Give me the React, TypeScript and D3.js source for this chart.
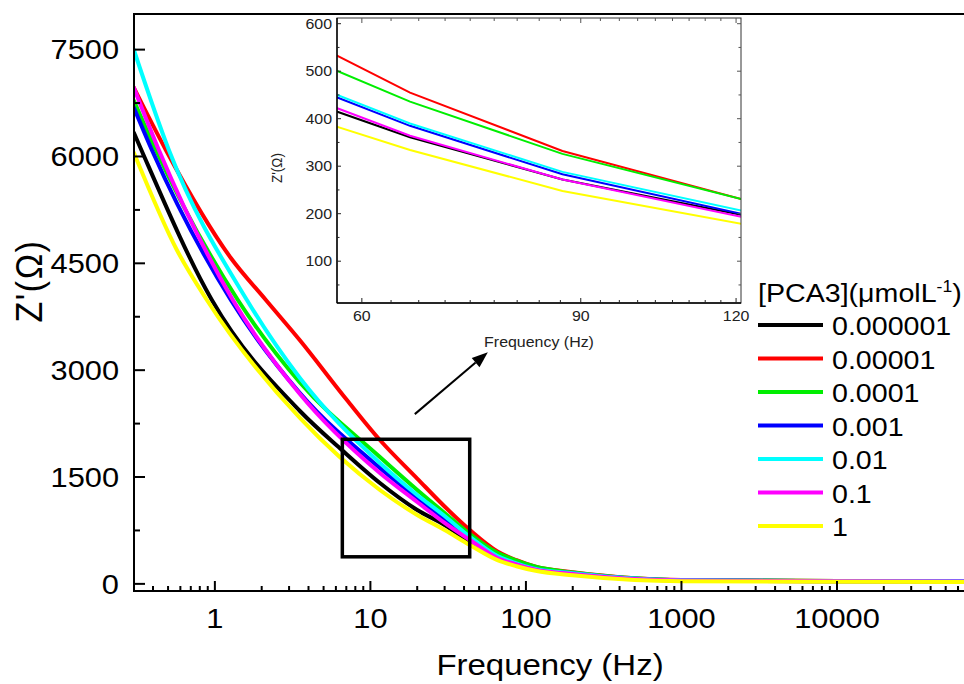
import React from "react";
import * as d3 from "d3";

// ---------- data ----------
const concentrations = ["0.000001", "0.00001", "0.0001", "0.001", "0.01", "0.1", "1"];
const seriesColors = ["#000000", "#ff0000", "#00ee00", "#0000ff", "#00ffff", "#ff00ff", "#ffff00"];

const xTickValues = [1, 10, 100, 1000, 10000];
const xTickLabels = ["1", "10", "100", "1000", "10000"];
const yTickValues = [0, 1500, 3000, 4500, 6000, 7500];

// [frequency (Hz), Z' (ohm)]
const black: [number, number][] = [
  [0.3, 6344], [0.3368, 6091], [0.9566, 3985], [3.521, 2427], [6.557, 1879], [11.51, 1416],
  [20, 1037], [30, 827], [43.6, 588], [65.6, 361], [87, 272], [115.4, 203],
  [200, 139], [500, 68], [1000, 47], [10000, 36], [70000, 33],
];
const red: [number, number][] = [
  [0.3, 6975], [0.4841, 6091], [1.267, 4575], [2.128, 3985], [3.52, 3420], [7.064, 2581], [11.51, 2020],
  [20, 1479], [30, 1086], [43.6, 756], [65.6, 455], [87, 332], [115.4, 240],
  [200, 165], [500, 80], [1000, 54], [10000, 42], [70000, 40],
];
const green: [number, number][] = [
  [0.3, 6793], [0.4175, 6091], [1.4056, 3985], [3.521, 2827], [11.51, 1781],
  [20, 1318], [30, 995], [43.6, 700], [65.6, 436], [87, 326], [115.4, 240],
  [200, 160], [500, 78], [1000, 52], [10000, 40], [70000, 38],
];
const blue: [number, number][] = [
  [0.3, 6694], [0.3935, 6091], [1.267, 3985], [3.521, 2680], [11.51, 1627],
  [20, 1206], [30, 897], [43.6, 644], [65.6, 385], [87, 283], [115.4, 206],
  [200, 145], [500, 72], [1000, 50], [10000, 38], [70000, 36],
];
const cyan: [number, number][] = [
  [0.3, 7509], [0.506, 6091], [1.6063, 3985], [3.521, 2890], [11.51, 1697],
  [20, 1248], [30, 953], [43.6, 660], [65.6, 390], [87, 288], [115.4, 210],
  [200, 150], [500, 74], [1000, 50], [10000, 38], [70000, 36],
];
const magenta: [number, number][] = [
  [0.3, 6975], [0.4363, 6091], [1.3055, 3985], [3.521, 2666], [11.51, 1556],
  [20, 1149], [30, 855], [43.6, 616], [65.6, 364], [87, 272], [115.4, 198],
  [200, 140], [500, 68], [1000, 47], [10000, 36], [70000, 34],
];
const yellow: [number, number][] = [
  [0.3, 6063], [0.5697, 4687], [0.8884, 3985], [3.521, 2329], [11.51, 1318],
  [20, 967], [30, 756], [43.6, 546], [65.6, 334], [87, 248], [115.4, 184],
  [200, 120], [500, 55], [1000, 38], [10000, 30], [70000, 28],
];
const mainSeries = [black, red, green, blue, cyan, magenta, yellow];

// inset (zoomed) data
const insetFreqs = [49.5, 65.6, 87, 121.5];
const insetBlack = [473, 361, 272, 197];
const insetRed = [617, 455, 332, 230];
const insetGreen = [571, 436, 326, 230];
const insetBlue = [510, 385, 283, 199];
const insetCyan = [515, 390, 288, 206];
const insetMagenta = [485, 364, 272, 193];
const insetYellow = [436, 334, 248, 178];
const insetSeries = [insetBlack, insetRed, insetGreen, insetBlue, insetCyan, insetMagenta, insetYellow];
const insetXTicks = [60, 90, 120];
const insetYTicks = [100, 200, 300, 400, 500, 600];

// zoom box and arrow (data coordinates)
const zoomBoxFreq = [6.6, 43.5];
const zoomBoxZ = [380, 2030];
const arrowFrom = [19.3, 2383];
const arrowTo = [56.9, 3252];

// ---------- chart ----------
const FONT = "'Liberation Sans', Arial, Helvetica, sans-serif";
const SX = 1.1;

function Txt(props: {
  x: number; y: number; size: number; anchor?: string; rotate?: boolean; fill?: string; spacing?: number; children: any;
}) {
  const { x, y, size, anchor = "middle", rotate = false, fill = "#000", spacing, children } = props;
  const tf = rotate
    ? `translate(${x},${y}) rotate(-90) scale(1,${SX})`
    : `translate(${x},${y}) scale(${SX},1)`;
  return (
    <text
      transform={tf}
      fontSize={size}
      fontFamily={FONT}
      textAnchor={anchor}
      dy="0.35em"
      fill={fill}
      style={spacing ? { letterSpacing: `${spacing}px` } : undefined}
    >
      {children}
    </text>
  );
}

export default function App() {
  const W = 964, H = 684;
  const L = 134, R = 964, T = 14, B = 591;
  const x = d3.scaleLog().domain([0.302, 65570]).range([L, R]);
  const y = d3.scaleLinear().domain([-100, 8000]).range([B, T]);

  const line = d3
    .line<[number, number]>()
    .x((d) => x(d[0]))
    .y((d) => y(d[1]))
    .curve(d3.curveMonotoneX);

  // minor x ticks
  const xMinor: number[] = [];
  for (let e = -1; e <= 4; e++) {
    for (let k = 2; k <= 9; k++) {
      const v = k * Math.pow(10, e);
      if (v > 0.302 && v < 65570) xMinor.push(v);
    }
  }
  const yMinor = d3.range(750, 8000, 1500);

  // inset
  const iL = 337, iR = 741, iT = 18, iB = 303;
  const ix = d3.scaleLog().domain([57.3, 121.1]).range([iL, iR]);
  const iy = d3.scaleLinear().domain([12, 612]).range([iB, iT]);
  const iline = d3
    .line<number>()
    .x((_, i) => ix(insetFreqs[i]))
    .y((d) => iy(d));
  const ixMinor = d3
    .range(0, 19)
    .map((i) => 60 + (i * 10) / 3)
    .filter((v) => v < 121 && Math.abs(v - 90) > 0.1 && Math.abs(v - 60) > 0.1 && Math.abs(v - 120) > 0.1);
  const iyMinor = d3.range(50, 612, 100);

  // arrow geometry
  const ax1 = x(arrowFrom[0]), ay1 = y(arrowFrom[1]);
  const ax2 = x(arrowTo[0]), ay2 = y(arrowTo[1]);
  const ang = Math.atan2(ay2 - ay1, ax2 - ax1);
  const hl = 16, hw = 6;
  const bx = ax2 - hl * Math.cos(ang), by = ay2 - hl * Math.sin(ang);
  const head = [
    [ax2, ay2],
    [bx + hw * Math.sin(ang), by - hw * Math.cos(ang)],
    [bx - hw * Math.sin(ang), by + hw * Math.cos(ang)],
  ].map((p) => p.join(",")).join(" ");

  const legendX = 758, legendY0 = 325, legendStep = 33.5;

  return (
    <svg width={W} height={H} style={{ position: "absolute", left: 0, top: 0, background: "#fff" }}>
      <defs>
        <clipPath id="mainClip">
          <rect x={L} y={T} width={R - L} height={B - T} />
        </clipPath>
        <clipPath id="insetClip">
          <rect x={iL} y={iT} width={iR - iL} height={iB - iT} />
        </clipPath>
      </defs>
      <rect x={0} y={0} width={W} height={H} fill="#fff" />

      {/* curves */}
      <g clipPath="url(#mainClip)">
        {mainSeries.map((s, i) => (
          <path key={i} d={line(s) || ""} fill="none" stroke={seriesColors[i]} strokeWidth={4} strokeLinejoin="round" />
        ))}
      </g>

      {/* main axes */}
      <line x1={L} y1={T} x2={R} y2={T} stroke="#000" strokeWidth={2} />
      <line x1={L} y1={T - 1} x2={L} y2={B + 1} stroke="#000" strokeWidth={2} />
      <line x1={L - 1} y1={B} x2={R} y2={B} stroke="#000" strokeWidth={2} />
      {yTickValues.map((v) => (
        <g key={v}>
          <line x1={L} x2={L + 11} y1={y(v)} y2={y(v)} stroke="#000" strokeWidth={2} />
          <Txt x={119} y={y(v)} size={28} anchor="end">{String(v)}</Txt>
        </g>
      ))}
      {yMinor.map((v) => (
        <line key={v} x1={L} x2={L + 6} y1={y(v)} y2={y(v)} stroke="#000" strokeWidth={2} />
      ))}
      {xTickValues.map((v, i) => (
        <g key={v}>
          <line x1={x(v)} x2={x(v)} y1={B} y2={B - 10} stroke="#000" strokeWidth={2} />
          <Txt x={x(v)} y={618} size={28}>{xTickLabels[i]}</Txt>
        </g>
      ))}
      {xMinor.map((v, i) => (
        <line key={i} x1={x(v)} x2={x(v)} y1={B} y2={B - 5} stroke="#000" strokeWidth={2} />
      ))}
      <Txt x={550} y={664} size={30}>Frequency (Hz)</Txt>
      <Txt x={29} y={281} size={34} rotate spacing={1.5}>Z'(Ω)</Txt>

      {/* zoom box */}
      <rect
        x={x(zoomBoxFreq[0])}
        y={y(zoomBoxZ[1])}
        width={x(zoomBoxFreq[1]) - x(zoomBoxFreq[0])}
        height={y(zoomBoxZ[0]) - y(zoomBoxZ[1])}
        fill="none"
        stroke="#000"
        strokeWidth={3.5}
      />
      {/* arrow */}
      <line x1={ax1} y1={ay1} x2={bx} y2={by} stroke="#000" strokeWidth={2} />
      <polygon points={head} fill="#000" />

      {/* inset */}
      <rect x={iL} y={iT} width={iR - iL} height={iB - iT} fill="#fff" />
      <g clipPath="url(#insetClip)">
        {insetSeries.map((s, i) => (
          <path key={i} d={iline(s) || ""} fill="none" stroke={seriesColors[i]} strokeWidth={2} />
        ))}
      </g>
      <rect x={iL} y={iT} width={iR - iL} height={iB - iT} fill="none" stroke="#333" strokeWidth={1} />
      <line x1={iL} y1={iT} x2={iL} y2={iB} stroke="#000" strokeWidth={1.4} />
      <line x1={iL} y1={iB} x2={iR} y2={iB} stroke="#000" strokeWidth={1.4} />
      {insetYTicks.map((v) => (
        <g key={v}>
          <line x1={iL} x2={iL + 4} y1={iy(v)} y2={iy(v)} stroke="#222" strokeWidth={1} />
          <line x1={iR} x2={iR - 4} y1={iy(v)} y2={iy(v)} stroke="#555" strokeWidth={1} />
          <Txt x={332} y={iy(v)} size={14.5} anchor="end" fill="#222">{String(v)}</Txt>
        </g>
      ))}
      {iyMinor.map((v) => (
        <g key={v}>
          <line x1={iL} x2={iL + 2.5} y1={iy(v)} y2={iy(v)} stroke="#222" strokeWidth={1} />
          <line x1={iR} x2={iR - 2.5} y1={iy(v)} y2={iy(v)} stroke="#555" strokeWidth={1} />
        </g>
      ))}
      {insetXTicks.map((v) => (
        <g key={v}>
          <line x1={ix(v)} x2={ix(v)} y1={iB} y2={iB - 5} stroke="#222" strokeWidth={1} />
          <line x1={ix(v)} x2={ix(v)} y1={iT} y2={iT + 5} stroke="#555" strokeWidth={1} />
          <Txt x={ix(v)} y={316} size={14.5} fill="#222">{String(v)}</Txt>
        </g>
      ))}
      {ixMinor.map((v, i) => (
        <g key={i}>
          <line x1={ix(v)} x2={ix(v)} y1={iB} y2={iB - 3} stroke="#222" strokeWidth={1} />
          <line x1={ix(v)} x2={ix(v)} y1={iT} y2={iT + 3} stroke="#555" strokeWidth={1} />
        </g>
      ))}
      <Txt x={539} y={342} size={14.5} fill="#222">Frequency (Hz)</Txt>
      <Txt x={277} y={168} size={13.5} rotate fill="#222">Z'(Ω)</Txt>

      {/* legend */}
      <text transform={`translate(${legendX},293) scale(${SX},1)`} fontSize={26} fontFamily={FONT} dy="0.35em">
        [PCA3](μmolL
        <tspan dy={-10} fontSize={16}>-1</tspan>
        <tspan dy={10}>)</tspan>
      </text>
      {concentrations.map((c, i) => (
        <g key={c}>
          <line
            x1={legendX}
            x2={legendX + 65}
            y1={legendY0 + i * legendStep}
            y2={legendY0 + i * legendStep}
            stroke={seriesColors[i]}
            strokeWidth={4}
          />
          <Txt x={832} y={legendY0 + i * legendStep + 1} size={26} anchor="start">{c}</Txt>
        </g>
      ))}
    </svg>
  );
}
